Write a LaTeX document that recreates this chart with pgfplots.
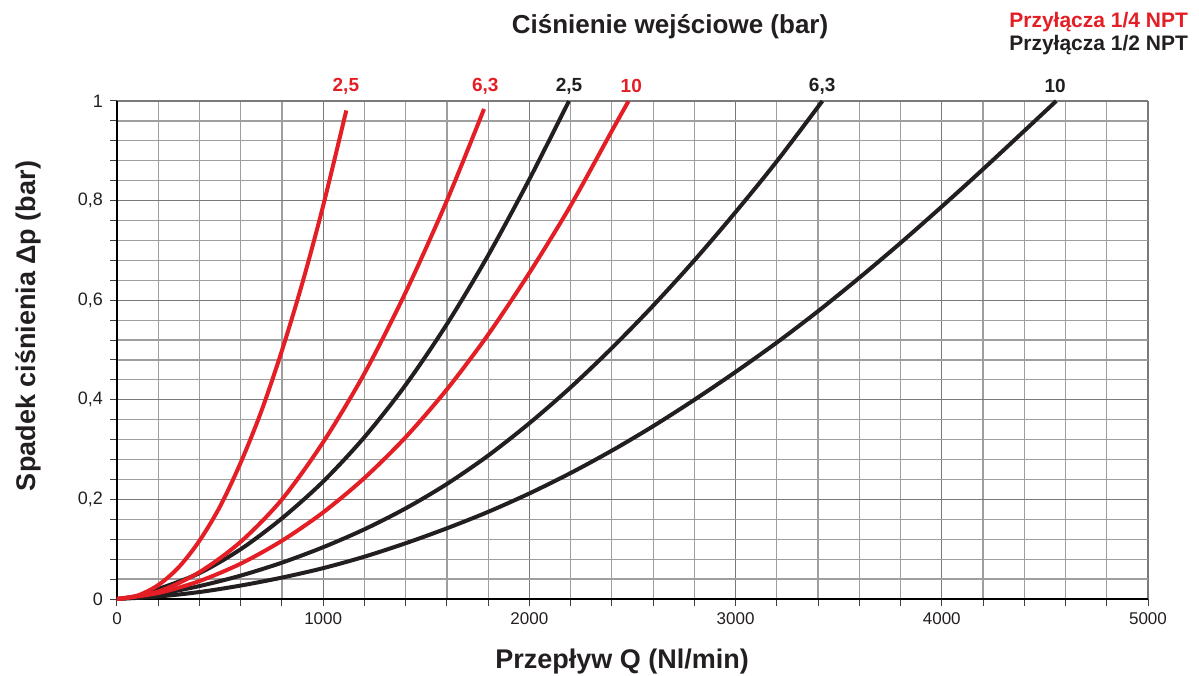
\documentclass[border=0pt]{standalone}
\usepackage{pgfplots}
\pgfplotsset{compat=1.18}
\usepackage{fontspec}
\setmainfont{Liberation Sans}
\definecolor{cred}{RGB}{227,30,37}
\definecolor{cblk}{RGB}{35,31,32}
\begin{document}
\begin{tikzpicture}
\begin{axis}[
  name=ax, at={(0,0)}, anchor=south west,
  scale only axis, width=515.5pt, height=249pt,
  xmin=0, xmax=5000, ymin=0, ymax=1,
  xtick={0,1000,2000,3000,4000,5000},
  xticklabels={0,1000,2000,3000,4000,5000},
  ytick={0,0.2,0.4,0.6,0.8,1},
  yticklabels={0,{0,2},{0,4},{0,6},{0,8},1},
  minor x tick num=4, minor y tick num=4,
  grid=both,
  major grid style={black!52, line width=0.6pt},
  minor grid style={black!38, line width=0.6pt},
  axis x line*=bottom, axis y line*=left,
  axis line style={-, black, line width=0.7pt},
  tick align=outside,
  major tick length=3.5pt, minor tick length=3.5pt,
  tick style={black!75, line width=0.5pt},
  xticklabel style={font=\fontsize{8.5}{10}\selectfont, text=cblk},
  yticklabel style={font=\fontsize{9}{10}\selectfont, text=cblk},
  clip=false,
]
% 1/2 NPT (black)
\addplot[cblk, line width=2pt, smooth] coordinates {
(130,0.012)(200,0.02)(400,0.052)(600,0.1)(800,0.162)(1000,0.236)(1200,0.325)(1400,0.43)(1600,0.552)(1800,0.69)(2000,0.843)(2192,1.0)};
\addplot[cblk, line width=2pt, smooth] coordinates {
(0,0)(200,0.010)(400,0.026)(600,0.047)(800,0.073)(1000,0.104)(1200,0.140)(1400,0.182)(1600,0.231)(1800,0.288)(2000,0.353)(2200,0.425)(2400,0.504)(2600,0.589)(2800,0.68)(3000,0.777)(3200,0.879)(3421,1.0)};
\addplot[cblk, line width=2pt, smooth] coordinates {
(0,0)(200,0.005)(400,0.014)(600,0.027)(800,0.043)(1000,0.062)(1200,0.085)(1400,0.112)(1600,0.142)(1800,0.175)(2000,0.212)(2200,0.253)(2400,0.298)(2600,0.347)(2800,0.40)(3000,0.456)(3200,0.515)(3400,0.578)(3600,0.645)(3800,0.715)(4000,0.788)(4200,0.863)(4400,0.94)(4555,1.0)};
% 1/4 NPT (red)
\addplot[cred, line width=2pt, smooth] coordinates {
(0,0)(100,0.007)(200,0.028)(300,0.064)(400,0.117)(500,0.186)(600,0.274)(700,0.377)(800,0.499)(900,0.636)(1000,0.79)(1112,0.981)};
\addplot[cred, line width=2pt, smooth] coordinates {
(0,0)(200,0.015)(400,0.054)(600,0.115)(800,0.2)(1000,0.315)(1200,0.453)(1400,0.616)(1600,0.80)(1780,0.984)};
\addplot[cred, line width=2pt, smooth] coordinates {
(0,0)(200,0.012)(400,0.036)(600,0.071)(800,0.117)(1000,0.174)(1200,0.243)(1400,0.325)(1600,0.421)(1800,0.531)(2000,0.655)(2200,0.79)(2400,0.94)(2481,1.0)};
% curve labels
\node[text=cred, font=\bfseries\fontsize{9.5}{11}\selectfont, yshift=7.5pt] at (axis cs:1110,1) {2,5};
\node[text=cred, font=\bfseries\fontsize{9.5}{11}\selectfont, yshift=7.5pt] at (axis cs:1786,1) {6,3};
\node[text=cblk, font=\bfseries\fontsize{9.5}{11}\selectfont, yshift=7.5pt] at (axis cs:2192,1) {2,5};
\node[text=cred, font=\bfseries\fontsize{9.5}{11}\selectfont, yshift=7.5pt] at (axis cs:2494,1) {10};
\node[text=cblk, font=\bfseries\fontsize{9.5}{11}\selectfont, yshift=7.5pt] at (axis cs:3420,1) {6,3};
\node[text=cblk, font=\bfseries\fontsize{9.5}{11}\selectfont, yshift=7.5pt] at (axis cs:4550,1) {10};
% titles
\node[text=cblk, font=\bfseries\fontsize{13}{15}\selectfont, yshift=37pt] at (axis cs:2682,1) {Ciśnienie wejściowe (bar)};
\node[anchor=east, text=cred, font=\bfseries\fontsize{10.5}{12}\selectfont, xshift=23.5pt, yshift=39.5pt] at (rel axis cs:1,1) {Przyłącza 1/4 NPT};
\node[anchor=east, text=cblk, font=\bfseries\fontsize{10.5}{12}\selectfont, xshift=23.5pt, yshift=28pt] at (rel axis cs:1,1) {Przyłącza 1/2 NPT};
\node[text=cblk, font=\bfseries\fontsize{13.5}{15}\selectfont, yshift=-31.5pt] at (rel axis cs:0.49,0) {Przepływ Q (Nl/min)};
\node[text=cblk, rotate=90, font=\bfseries\fontsize{13.5}{15}\selectfont, xshift=12pt, yshift=44.5pt] at (rel axis cs:0,0.5) {Spadek ciśnienia Δp (bar)};
\end{axis}
\pgfresetboundingbox
\path[use as bounding box] (-58.5pt,-38pt) rectangle (541pt,299.5pt);
\end{tikzpicture}
\end{document}
